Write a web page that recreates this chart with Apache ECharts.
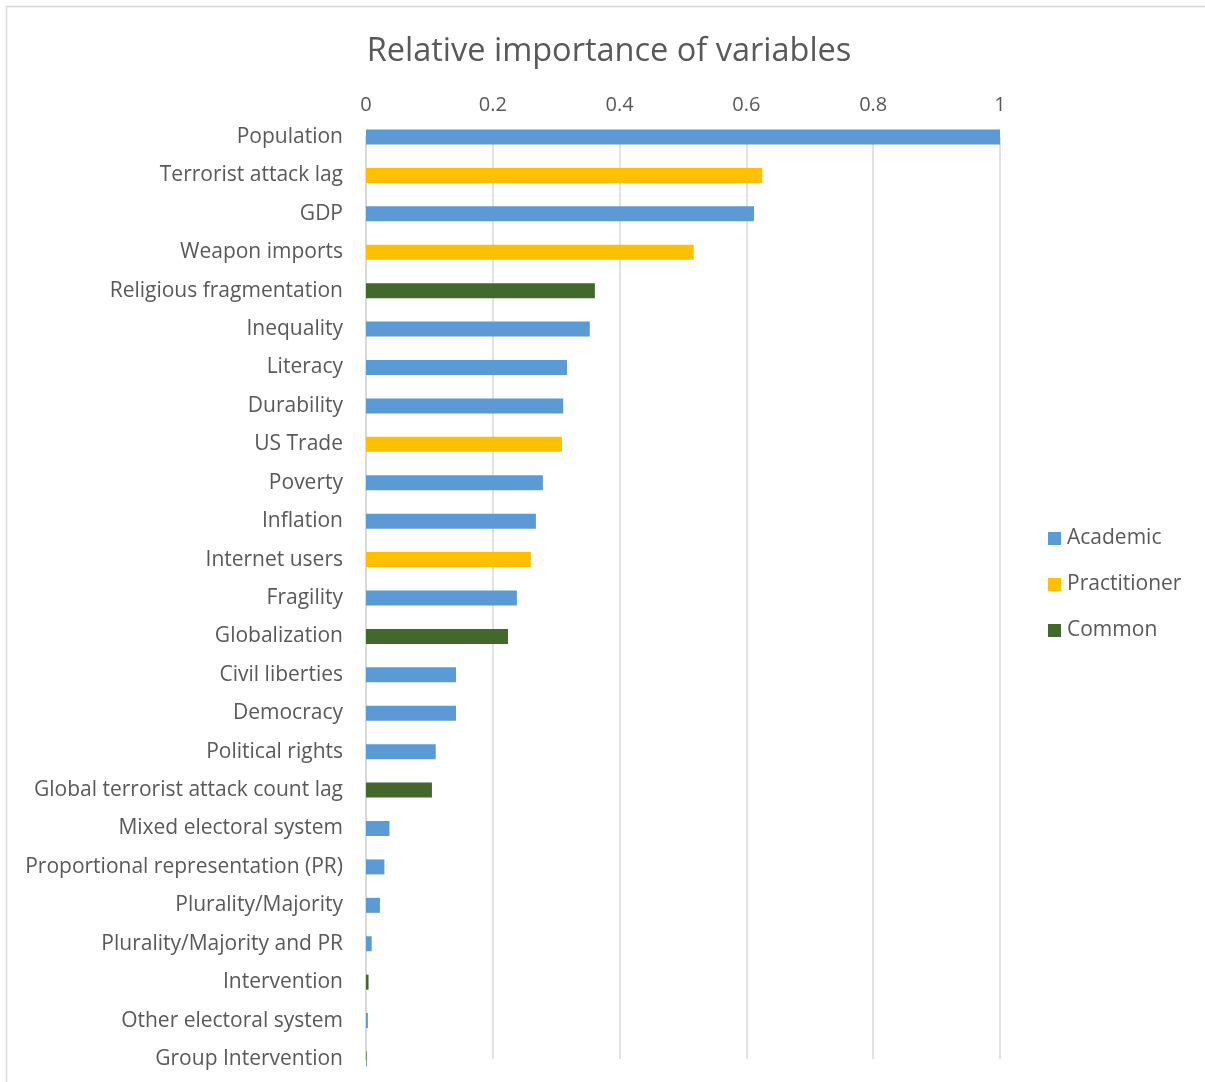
<!DOCTYPE html>
<html>
<head>
<meta charset="utf-8">
<title>Relative importance of variables</title>
<script src="https://cdn.jsdelivr.net/npm/echarts@6/dist/echarts.min.js"></script>
<style>
  html, body { margin: 0; padding: 0; background: #ffffff; }
  #chart { width: 1205px; height: 1082px; }
</style>
</head>
<body>
<div id="chart"></div>
<script>
// Variables, top to bottom, with their relative importance and source group
const categories = [
  'Population', 'Terrorist attack lag', 'GDP', 'Weapon imports',
  'Religious fragmentation', 'Inequality', 'Literacy', 'Durability',
  'US Trade', 'Poverty', 'Inflation', 'Internet users', 'Fragility',
  'Globalization', 'Civil liberties', 'Democracy', 'Political rights',
  'Global terrorist attack count lag', 'Mixed electoral system',
  'Proportional representation (PR)', 'Plurality/Majority',
  'Plurality/Majority and PR', 'Intervention', 'Other electoral system',
  'Group Intervention'
];
const importance = [
  1.0, 0.625, 0.612, 0.517,
  0.361, 0.353, 0.317, 0.311,
  0.309, 0.279, 0.268, 0.260, 0.238,
  0.224, 0.142, 0.142, 0.110,
  0.104, 0.037,
  0.029, 0.022,
  0.009, 0.004, 0.003,
  0.001
];
const groups = [
  'Academic', 'Practitioner', 'Academic', 'Practitioner',
  'Common', 'Academic', 'Academic', 'Academic',
  'Practitioner', 'Academic', 'Academic', 'Practitioner', 'Academic',
  'Common', 'Academic', 'Academic', 'Academic',
  'Common', 'Academic',
  'Academic', 'Academic',
  'Academic', 'Common', 'Academic',
  'Common'
];
const groupNames = ['Academic', 'Practitioner', 'Common'];
const groupColors = ['#5b9bd5', '#ffc000', '#43682b'];
const xTicks = [0, 0.2, 0.4, 0.6, 0.8, 1];

const textColor = '#595959';
const font = '"Open Sans", sans-serif';

// One series per group; stacked so every bar sits on its own category row
const series = groupNames.map((g, gi) => ({
  name: g,
  type: 'bar',
  stack: 'all',
  barWidth: 15,
  clip: true,
  itemStyle: { color: groupColors[gi] },
  data: importance.map((v, i) => (groups[i] === g ? v : null))
}));

const chart = echarts.init(document.getElementById('chart'), null, { renderer: 'canvas' });
chart.setOption({
  animation: false,
  backgroundColor: '#ffffff',
  graphic: [{
    type: 'rect',
    shape: { x: 6.5, y: 6.5, width: 1220, height: 1100 },
    style: { fill: 'none', stroke: '#d9d9d9', lineWidth: 1.5 },
    silent: true,
    z: -1
  }],
  title: {
    text: 'Relative importance of variables',
    left: 604,
    textAlign: 'center',
    top: 30,
    textStyle: { fontFamily: font, fontSize: 32.5, fontWeight: 'normal', color: textColor }
  },
  legend: {
    orient: 'vertical',
    left: 1043,
    top: 523,
    itemWidth: 13,
    itemHeight: 13,
    itemGap: 25,
    icon: 'rect',
    data: groupNames,
    textStyle: { fontFamily: font, fontSize: 21, color: textColor, padding: [0, 0, 0, 1] }
  },
  grid: { left: 366, right: 205, top: 137, bottom: 23, containLabel: false },
  xAxis: {
    type: 'value',
    position: 'top',
    min: xTicks[0],
    max: xTicks[xTicks.length - 1],
    interval: 0.2,
    axisLine: { show: false },
    axisTick: { show: false },
    axisLabel: {
      margin: 22,
      fontFamily: font,
      fontSize: 20,
      color: textColor,
      formatter: v => String(+v.toFixed(1))
    },
    splitLine: { show: true, lineStyle: { color: '#d9d9d9', width: 1.5 } }
  },
  yAxis: {
    type: 'category',
    data: categories,
    inverse: true,
    boundaryGap: false,
    axisLine: { show: true, lineStyle: { color: '#d9d9d9', width: 2 } },
    axisTick: { show: false },
    splitLine: { show: false },
    axisLabel: {
      margin: 23,
      interval: 0,
      fontFamily: font,
      fontSize: 21,
      color: textColor,
      padding: [2, 0, 0, 0]
    }
  },
  series: series
});
</script>
</body>
</html>
